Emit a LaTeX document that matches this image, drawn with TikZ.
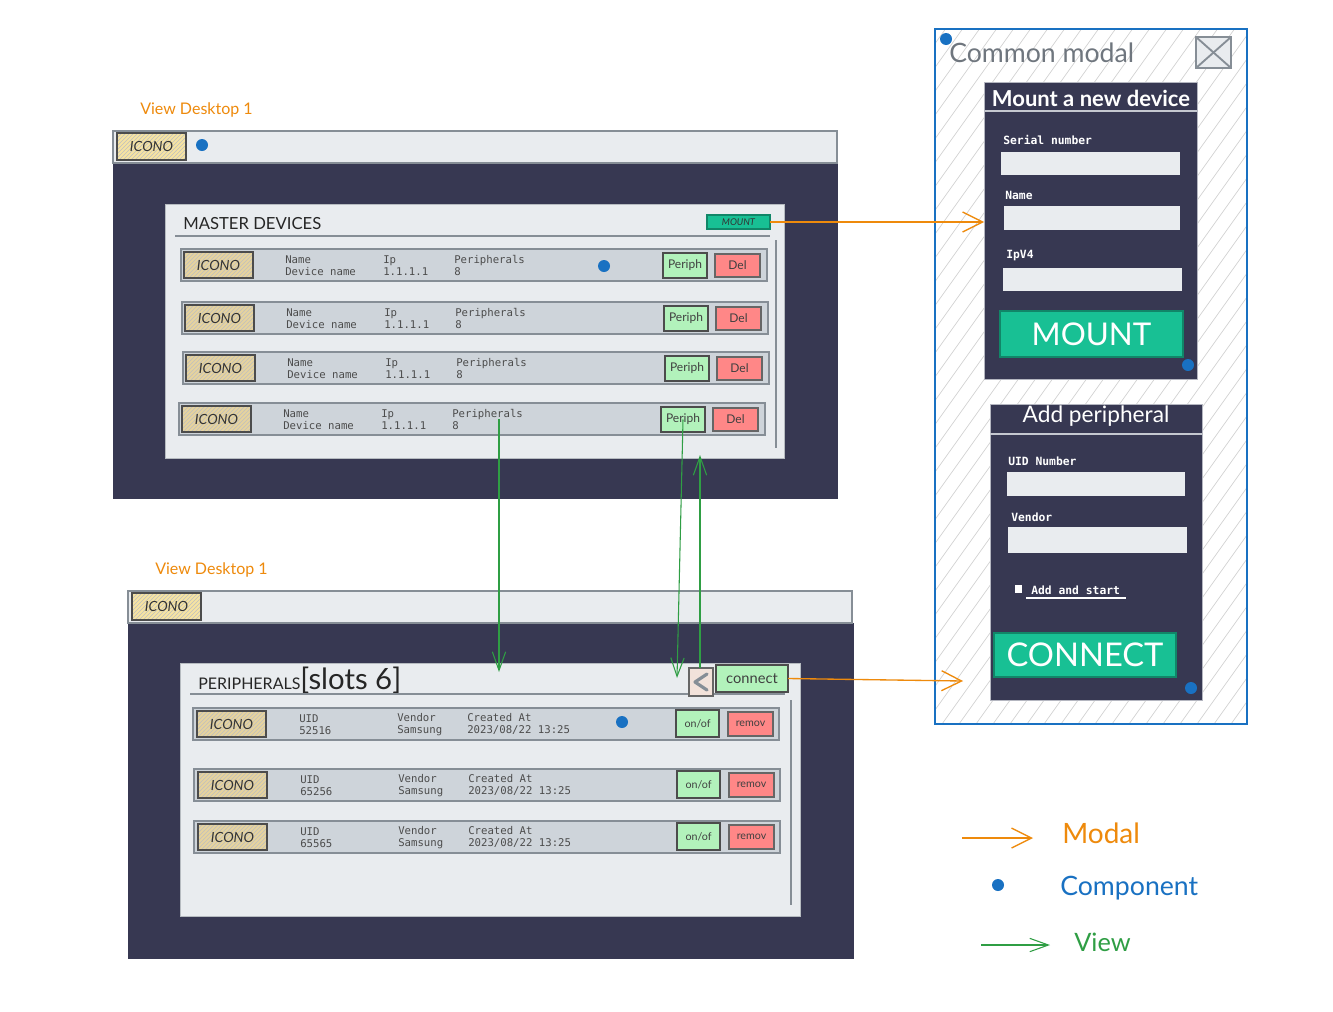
\documentclass[tikz,border=0pt]{standalone}
\usepackage{fontspec}
\setmainfont{Lato}
\newfontfamily\monofam{DejaVu Sans Mono}
\usetikzlibrary{arrows.meta,patterns}

\definecolor{navy}{RGB}{55,56,82}
\definecolor{paper}{HTML}{E9ECEF}
\definecolor{rowgrey}{HTML}{CED4DA}
\definecolor{edge}{HTML}{868E96}
\definecolor{sand}{HTML}{E6D39E}
\definecolor{butter}{HTML}{F6E3A2}
\definecolor{mint}{HTML}{B2F2BB}
\definecolor{coral}{HTML}{FF8787}
\definecolor{btnteal}{RGB}{24,192,148}
\definecolor{accent}{HTML}{EE8A0C}
\definecolor{compblue}{HTML}{1971C2}
\definecolor{viewgreen}{HTML}{2F9E44}
\definecolor{blush}{HTML}{F2E2DA}
\definecolor{modalgrey}{HTML}{6F767E}

\newcommand\fsz[1]{\fontsize{#1}{#1}\selectfont}
% box spanning two corner points (pixel units), with centred text
\newcommand\uibox[7]{\node[inner sep=0pt,outer sep=0pt,
  minimum width={((#4)-(#2))*0.75pt},minimum height={((#5)-(#3))*0.75pt},#6]
  (#1) at ({((#2)+(#4))/2},{((#3)+(#5))/2}) {#7};}

\tikzset{
  winbar/.style={fill=paper,draw=edge,line width=0.8pt},
  winbody/.style={fill=navy,draw=navy},
  panel/.style={fill=paper,draw=edge!60,line width=0.6pt},
  devrow/.style={fill=rowgrey,draw=edge,line width=1.4pt},
  hatched/.style={path picture={\fill[pattern=north east lines,pattern color=black!25]
    (path picture bounding box.south west) rectangle (path picture bounding box.north east);}},
  icono/.style={fill=sand,draw=black!70,line width=0.9pt,hatched,
    font=\fsz{10.5}\itshape,text=black!80},
  bicono/.style={icono,fill=butter},
  greenbtn/.style={fill=mint,draw=black!70,line width=0.8pt,font=\fsz{9},text=black!75},
  redbtn/.style={fill=coral,draw=black!60,line width=0.8pt,font=\fsz{9},text=black!75},
  tealbtn/.style={fill=btnteal,draw=btnteal!70!black,line width=0.8pt},
  field/.style={fill=paper,draw=none},
  dot/.style={circle,fill=compblue,inner sep=0pt,minimum size=9pt},
  rowtext/.style={anchor=west,align=left,inner sep=0pt,font=\monofam\fontsize{8}{9}\selectfont,text=black!70},
  formlabel/.style={anchor=west,inner sep=0pt,font=\monofam\bfseries\fsz{8.5},text=white},
  viewlabel/.style={anchor=west,inner sep=0pt,font=\fsz{12},text=accent},
  modallink/.style={accent,line width=1pt,-{Straight Barb[length=15pt,width=15pt,line width=1pt]}},
  viewlink/.style={viewgreen,line width=0.8pt,-{Straight Barb[length=14pt,width=10pt,line width=0.8pt]}},
  scroll/.style={edge,line width=0.8pt},
  scrollthumb/.style={edge,line width=2.2pt},
}

\begin{document}
\begin{tikzpicture}[x=0.75pt,y=-0.75pt]
\useasboundingbox[fill=white] (0,0) rectangle (1333,1011);

% ---------- device list window ----------
\node[viewlabel] (toplabel) at (140,110) {View Desktop 1};
\uibox{topbody}{113}{163}{837}{498}{winbody}{}
\uibox{topbar}{113}{131}{837}{163}{winbar}{}
\uibox{topicon}{117}{133}{186}{160}{bicono}{ICONO}
\node[dot] (topdot) at (202,145) {};

\uibox{master}{165}{204}{784}{458}{panel}{}
\node[anchor=west,inner sep=0pt,font=\fsz{12.5},text=black!85] (mastertitle) at (183,224) {MASTER DEVICES};
\draw[edge,line width=1pt] (175,236) -- (770,236);
\uibox{mountsm}{707}{215}{770}{229}{tealbtn,font=\fsz{7}\itshape,text=black!80}{MOUNT}

\foreach \n/\dx/\yt in {1/0/249,2/1/302,3/2/352,4/-2/403}{
  \uibox{r\n}{181+\dx}{\yt}{767+\dx}{\yt+32}{devrow}{}
  \uibox{r\n-icon}{184+\dx}{\yt+3}{253+\dx}{\yt+29}{icono}{ICONO}
  \node[rowtext] (r\n-name) at (285+\dx,\yt+17) {Name\\Device name};
  \node[rowtext] (r\n-ip) at (383+\dx,\yt+17) {Ip\\1.1.1.1};
  \node[rowtext] (r\n-per) at (454+\dx,\yt+16) {Peripherals\\8};
  \uibox{r\n-pb}{663+\dx}{\yt+4}{707+\dx}{\yt+29}{greenbtn}{Periph}
  \uibox{r\n-del}{715+\dx}{\yt+5}{760+\dx}{\yt+28}{redbtn}{Del}
}
\node[dot] (r1dot) at (604,266) {};
\draw[scroll] (776,240) -- (776,448);
\draw[scrollthumb] (776,305) -- (776,375);

% ---------- peripherals window ----------
\node[viewlabel] (botlabel) at (155,570) {View Desktop 1};
\uibox{botbody}{128}{623}{853}{958}{winbody}{}
\uibox{botbar}{128}{591}{852}{623}{winbar}{}
\uibox{boticon}{132}{593}{201}{620}{bicono}{ICONO}

\uibox{perpanel}{180}{663}{800}{916}{panel}{}
\node[anchor=base west,inner sep=0pt,text=black!85] (pertitle) at (198,689)
  {\fsz{12}PERIPHERALS\fsz{22}[slots 6]};
\draw[edge,line width=1pt] (190,694) -- (785,694);
\uibox{back}{689}{668}{713}{696}{fill=blush,draw=black!60,line width=0.8pt}{}
\draw[edge,line width=2.4pt,line cap=round,line join=round] (707,674) -- (695,682) -- (707,690);
\uibox{connect}{716}{665}{788}{692}{greenbtn,font=\fsz{11}}{connect}

\foreach \n/\dx/\yt in {1/0/708,2/1/769,3/1/821}{
  \uibox{p\n}{193+\dx}{\yt}{779+\dx}{\yt+32}{devrow}{}
  \uibox{p\n-icon}{197+\dx}{\yt+3}{266+\dx}{\yt+29}{icono}{ICONO}
  \node[rowtext] (p\n-uid) at (299+\dx,\yt+17) {UID\\\ifcase\n\or 52516\or 65256\or 65565\fi};
  \node[rowtext] (p\n-ven) at (397+\dx,\yt+17) {Vendor\\Samsung};
  \node[rowtext] (p\n-date) at (467+\dx,\yt+16) {Created At\\2023/08/22 13:25};
  \uibox{p\n-on}{676+\dx}{\yt+2}{719+\dx}{\yt+29}{greenbtn,font=\fsz{8}}{on/of}
  \uibox{p\n-rm}{728+\dx}{\yt+4}{773+\dx}{\yt+28}{redbtn,font=\fsz{8}}{remov}
}
\node[dot] (p1dot) at (622,722) {};
\draw[scroll] (791,700) -- (791,905);
\draw[scrollthumb] (791,763) -- (791,833);

% ---------- common modal ----------
\begin{scope}
  \clip (935,29) rectangle (1247,724);
  \fill[white] (935,29) rectangle (1247,724);
  \foreach \i in {-520,-503,...,330}
    \draw[black!18,line width=0.5pt] (935+\i,724) -- (1435+\i,24);
\end{scope}
\uibox{modal}{935}{29}{1247}{724}{draw=compblue,line width=1.8pt}{}
\node[dot] (modaldot) at (946,39) {};
\node[anchor=west,inner sep=0pt,font=\fsz{20},text=modalgrey] (modaltitle) at (949,53) {Common modal};
\uibox{close}{1196}{37}{1231}{68}{fill=paper,draw=edge,line width=1.6pt}{}
\draw[edge,line width=1.4pt] (close.north west) -- (close.south east)
  (close.north east) -- (close.south west);

% mount form
\uibox{mountpanel}{984}{82}{1197}{379}{fill=navy,draw=paper!70!navy,line width=0.6pt}{}
\node[font=\fsz{16.5}\bfseries,text=white] (mounttitle) at (1091,98) {Mount a new device};
\draw[paper!80!navy,line width=0.8pt] (985,111) -- (1197,111);
\node[formlabel] (serlbl) at (1003,140) {Serial number};
\uibox{serial}{1001}{152}{1180}{175}{field}{}
\node[formlabel] (namelbl) at (1005,195) {Name};
\uibox{namefield}{1004}{206}{1180}{230}{field}{}
\node[formlabel] (iplbl) at (1006,256) {IpV4};
\uibox{ipfield}{1003}{268}{1182}{291}{field}{}
\uibox{mountbtn}{1000}{311}{1183}{357}{tealbtn,font=\fsz{23.5},text=white}{MOUNT}
\node[dot] (mountdot) at (1188,365) {};

% peripheral form
\uibox{addpanel}{990}{404}{1202}{700}{fill=navy,draw=paper!70!navy,line width=0.6pt}{}
\node[font=\fsz{17},text=white] (addtitle) at (1096,416) {Add peripheral};
\draw[paper!80!navy,line width=0.8pt] (990,434) -- (1202,434);
\node[formlabel] (uidlbl) at (1008,461) {UID Number};
\uibox{uidfield}{1007}{472}{1185}{496}{field}{}
\node[formlabel] (venlbl) at (1011,517) {Vendor};
\uibox{venfield}{1008}{527}{1187}{553}{field}{}
\uibox{check}{1015}{585}{1022}{593}{fill=white}{}
\node[formlabel] (startlbl) at (1031,590) {Add and start};
\draw[white,line width=0.8pt] (1026,598) -- (1126,598);
\uibox{connectbtn}{994}{633}{1176}{677}{tealbtn,font=\fsz{24.5},text=white}{CONNECT}
\node[dot] (adddot) at (1191,688) {};

% ---------- links ----------
\draw[modallink] (mountsm.east) -- (mountsm.east -| mountpanel.west);
\coordinate (addin) at (963,681);
\draw[modallink] (connect.east) -- (addin);

\coordinate (v1end) at (499,672);
\draw[viewlink] (r4-per.center -| v1end) -- (v1end);
\coordinate (v2end) at (677,678);
\draw[viewlink] (r4-pb.center) -- (v2end);
\coordinate (v3end) at (700,455);
\draw[viewlink] (back.north -| v3end) -- (v3end);

% ---------- legend ----------
\coordinate (lgma) at (962,838);
\coordinate (lgmb) at (1033,838);
\draw[modallink] (lgma) -- (lgmb);
\node[anchor=west,inner sep=0pt,font=\fsz{21},text=accent] (lgmodal) at (1062,833) {Modal};
\node[dot] (lgdot) at (998,885) {};
\node[anchor=west,inner sep=0pt,font=\fsz{20},text=compblue] (lgcomp) at (1060,888) {Component};
\coordinate (lgva) at (981,945);
\coordinate (lgvb) at (1050,945);
\draw[viewlink] (lgva) -- (lgvb);
\node[anchor=west,inner sep=0pt,font=\fsz{19},text=viewgreen] (lgview) at (1074,942) {View};
\end{tikzpicture}
\end{document}
